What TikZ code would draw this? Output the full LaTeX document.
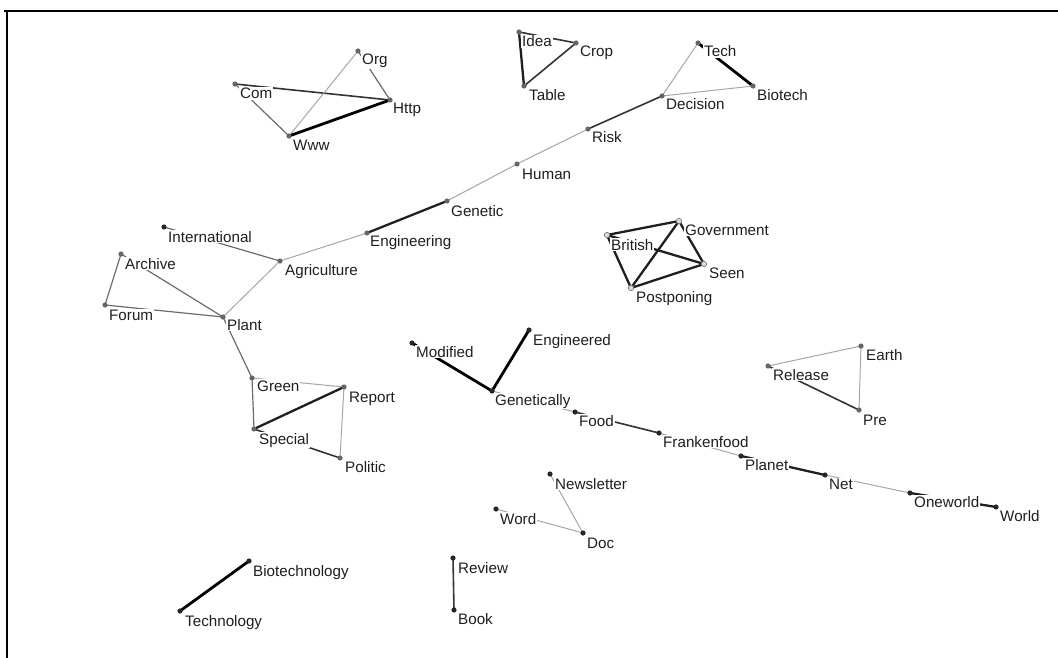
\documentclass[tikz,border=0pt]{standalone}
\usepackage{fontspec}
\setmainfont{Liberation Sans}
\pgfdeclarelayer{edges}
\pgfsetlayers{edges,main}
\tikzset{
  x=1pt, y=-1pt,
  dot/.style={circle, fill=black!85, inner sep=0pt, minimum size=5.2pt},
  gdot/.style={circle, fill=black!60, inner sep=0pt, minimum size=5.2pt},
  hdot/.style={circle, fill=black!15, draw=black!50, line width=0.7pt, inner sep=0pt, minimum size=5.4pt},
  lab/.style={anchor=base west, fill=white, inner sep=1pt, text=black!88, font=\fontsize{15.2}{16}\selectfont},
  heavy/.style={draw=black, line width=2.8pt},
  strong/.style={draw=black!88, line width=2.3pt},
  mid/.style={draw=black!80, line width=1.6pt},
  grey/.style={draw=black!58, line width=1.2pt},
  light/.style={draw=black!35, line width=1pt},
  frame/.style={draw=black, line width=2pt}
}
% term: name, x, y, label x, label baseline y, text, dot style
\newcommand\term[7]{%
  \node[#7] (#1) at (#2,#3) {};
  \node[lab] (#1-t) at (#4,#5) {#6};}
\newcommand\link[3]{\draw[#1] (#2.center) -- (#3.center);}
\begin{document}
\begin{tikzpicture}
\useasboundingbox (0,0) rectangle (1058,658);
\draw[frame] (4,11.5) -- (1058,11.5);
\draw[frame] (7,11) -- (7,658);

% web cluster
\term{org}{358}{51}{361}{65}{Org}{gdot}
\term{com}{235}{84}{239}{99}{Com}{gdot}
\term{http}{390}{100}{392}{114}{Http}{gdot}
\term{www}{289}{136}{292}{151}{Www}{gdot}
% idea cluster
\term{idea}{519}{32}{521}{47}{Idea}{gdot}
\term{crop}{576}{43}{579}{57}{Crop}{gdot}
\term{table}{524}{86}{528}{101}{Table}{gdot}
% main chain
\term{tech}{698}{43}{703}{57}{Tech}{gdot}
\term{biotech}{753}{86}{756}{101}{Biotech}{gdot}
\term{decision}{662}{96}{665}{110}{Decision}{gdot}
\term{risk}{588}{129}{591}{143}{Risk}{gdot}
\term{human}{517}{164}{521}{179}{Human}{gdot}
\term{genetic}{447}{201}{450}{216}{Genetic}{gdot}
\term{engineering}{367}{233}{369}{246}{Engineering}{gdot}
\term{agriculture}{280}{261}{284}{275}{Agriculture}{gdot}
\term{international}{164}{227}{167}{242}{International}{dot}
\term{archive}{121}{254}{124}{269}{Archive}{gdot}
\term{forum}{105}{305}{108}{320}{Forum}{gdot}
\term{plant}{223}{317}{226}{330}{Plant}{gdot}
% green report cluster
\term{green}{252}{378}{256}{391}{Green}{gdot}
\term{report}{344}{387}{348}{402}{Report}{gdot}
\term{special}{254}{429}{258}{444}{Special}{gdot}
\term{politic}{340}{458}{344}{472}{Politic}{gdot}
% british cluster
\term{british}{607}{235}{610}{250}{British}{hdot}
\term{government}{679}{221}{684}{235}{Government}{hdot}
\term{seen}{704}{264}{708}{278}{Seen}{hdot}
\term{postponing}{631}{288}{635}{302}{Postponing}{hdot}
% food chain
\term{modified}{412}{343}{415}{357}{Modified}{dot}
\term{engineered}{529}{330}{532}{345}{Engineered}{dot}
\term{genetically}{492}{391}{494}{405}{Genetically}{dot}
\term{food}{575}{412}{578}{426}{Food}{dot}
\term{frankenfood}{659}{433}{662}{447}{Frankenfood}{dot}
\term{planet}{741}{456}{744}{470}{Planet}{dot}
\term{net}{825}{475}{828}{489}{Net}{dot}
\term{oneworld}{910}{493}{913}{507}{Oneworld}{dot}
\term{world}{996}{507}{999}{521}{World}{dot}
% earth cluster
\term{release}{768}{366}{772}{380}{Release}{gdot}
\term{earth}{861}{346}{865}{360}{Earth}{gdot}
\term{pre}{859}{410}{862}{425}{Pre}{gdot}
% doc cluster
\term{newsletter}{550}{474}{554}{489}{Newsletter}{dot}
\term{word}{496}{509}{499}{524}{Word}{dot}
\term{doc}{583}{533}{586}{548}{Doc}{dot}
% pairs
\term{biotechnology}{249}{561}{252}{576}{Biotechnology}{dot}
\term{technology}{180}{611}{184}{626}{Technology}{dot}
\term{review}{453}{558}{457}{573}{Review}{dot}
\term{book}{454}{610}{457}{624}{Book}{dot}

\begin{pgfonlayer}{edges}
\link{mid}{com}{http}
\link{grey}{com}{www}
\link{grey}{org}{http}
\link{light}{org}{www}
\link{heavy}{www}{http}

\link{strong}{idea}{table}
\link{mid}{idea}{crop}
\link{mid}{crop}{table}

\link{light}{tech}{decision}
\link{heavy}{tech}{biotech}
\link{light}{decision}{biotech}
\link{mid}{decision}{risk}
\link{light}{risk}{human}
\link{light}{human}{genetic}
\link{strong}{genetic}{engineering}
\link{light}{engineering}{agriculture}
\link{grey}{agriculture}{international}
\link{light}{agriculture}{plant}
\link{grey}{plant}{archive}
\link{grey}{plant}{forum}
\link{grey}{archive}{forum}
\link{grey}{plant}{green}

\link{light}{green}{report}
\link{grey}{green}{special}
\link{strong}{special}{report}
\link{light}{report}{politic}
\link{mid}{special}{politic}

\link{strong}{british}{government}
\link{strong}{british}{postponing}
\link{strong}{british}{seen}
\link{strong}{government}{postponing}
\link{strong}{government}{seen}
\link{strong}{seen}{postponing}

\link{heavy}{modified}{genetically}
\link{heavy}{engineered}{genetically}
\link{light}{genetically}{food}
\link{mid}{food}{frankenfood}
\link{light}{frankenfood}{planet}
\link{strong}{planet}{net}
\link{light}{net}{oneworld}
\link{strong}{oneworld}{world}

\link{light}{release}{earth}
\link{light}{earth}{pre}
\link{mid}{release}{pre}

\link{light}{newsletter}{doc}
\link{light}{word}{doc}

\link{heavy}{biotechnology}{technology}
\link{mid}{review}{book}
\end{pgfonlayer}
\end{tikzpicture}
\end{document}
